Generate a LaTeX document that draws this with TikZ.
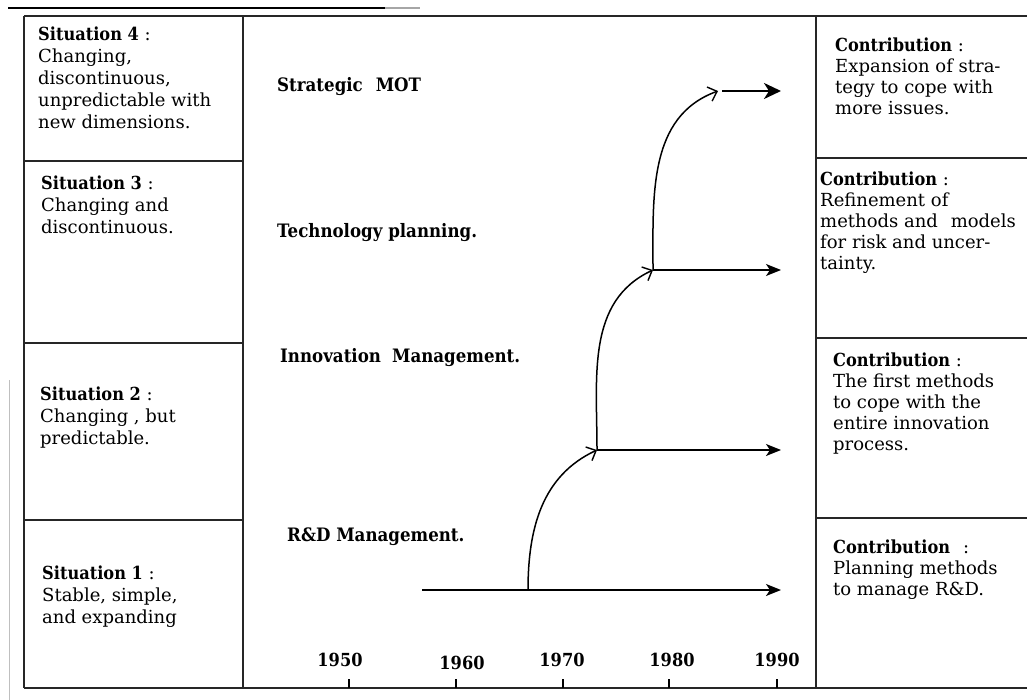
\documentclass[tikz,border=0pt]{standalone}
\usepackage{fontspec}
\setmainfont{DejaVu Serif}[BoldFeatures={FakeStretch=0.9}]
\usetikzlibrary{arrows.meta}
\begin{document}
\begin{tikzpicture}[x=1pt,y=-1pt,
  frame/.style={line width=1.2pt,draw=black!85},
  txt/.style={anchor=north west,align=left,inner sep=0pt,
    font=\fontsize{18}{22}\selectfont},
  rtxt/.style={txt,font=\fontsize{18}{21}\selectfont},
  stage/.style={anchor=west,inner sep=0pt,font=\fontsize{18.5}{20}\selectfont\bfseries},
  year/.style={inner sep=0pt,font=\fontsize{18}{20}\selectfont\bfseries},
  flow/.style={line width=1.6pt,-{Stealth[length=15pt,width=12pt,inset=4pt]}},
  rise/.style={line width=1.5pt,-{Straight Barb[length=8pt,width=15pt,line width=1.4pt]}},
  tick/.style={line width=1.4pt}
]
\useasboundingbox (0,0) rectangle (1027,700);

% page rule and scan edge
\draw[line width=2.6pt] (8,8) -- (385,8);
\draw[line width=1.6pt,black!35] (385,8) -- (420,8);
\draw[line width=1pt,black!25] (9,380) -- (9,700);

% outer frame of the chart
\draw[frame] (24,16) -- (1027,16);
\draw[frame] (24,688) -- (1027,688);
\draw[frame] (24,16) -- (24,688);
\draw[frame] (243,16) -- (243,688);
\draw[frame] (816,16) -- (816,688);

% dividers of the two side columns
\draw[frame] (24,161) -- (243,161);
\draw[frame] (24,343) -- (243,343);
\draw[frame] (24,520) -- (243,520);
\draw[frame] (816,158) -- (1027,158);
\draw[frame] (816,338) -- (1027,338);
\draw[frame] (816,518) -- (1027,518);

% situations
\node[txt] (s4) at (38,27) {\textbf{Situation 4} :\\Changing,\\discontinuous,\\unpredictable with\\new dimensions.};
\node[txt] (s3) at (41,176) {\textbf{Situation 3} :\\Changing and\\discontinuous.};
\node[txt] (s2) at (40,387) {\textbf{Situation 2} :\\Changing , but\\predictable.};
\node[txt] (s1) at (42,566) {\textbf{Situation 1} :\\Stable, simple,\\and expanding};

% contributions
\node[rtxt] (c4) at (835,38) {\textbf{Contribution} :\\Expansion of stra-\\tegy to cope with\\more issues.};
\node[rtxt] (c3) at (820,172) {\textbf{Contribution} :\\Refinement of\\methods and\hspace{0.4em} models\\for risk and uncer-\\tainty.};
\node[rtxt] (c2) at (833,353) {\textbf{Contribution} :\\The first methods\\to cope with the\\entire innovation\\process.};
\node[rtxt] (c1) at (833,540) {\textbf{Contribution}\hspace{0.4em} :\\Planning methods\\to manage R\&D.};

% management stages
\node[stage] (mot) at (277,87) {Strategic\hspace{0.7em}MOT};
\node[stage] (tp) at (277,233) {Technology planning.};
\node[stage] (im) at (280,358) {Innovation\hspace{0.6em}Management.};
\node[stage] (rd) at (287,537) {R\&D Management.};

% time axis
\foreach \yr/\tx/\lx/\ly in {1950/349/340/660,1960/456/462/663,1970/563/562/660,1980/669/672/660,1990/777/777/660}{
  \node[year] (y\yr) at (\lx,\ly) {\yr};
  \coordinate (t\yr) at (\tx,679);
  \draw[tick] (t\yr) -- ++(0,9);
}

% branch points of the evolution
\coordinate (rdS) at (422,590);
\coordinate (rdB) at (528,590);
\coordinate (rdE) at (781,590);
\coordinate (imB) at (597,450);
\coordinate (imE) at (781,450);
\coordinate (tpB) at (653,270);
\coordinate (tpE) at (781,270);
\coordinate (motB) at (718,91);
\coordinate (motS) at (722,91);
\coordinate (motE) at (781,91);

\draw[flow] (rdS) -- (rdE);
\draw[rise] (rdB) to[out=90,in=205] (imB);
\draw[flow] (imB) -- (imE);
\draw[rise] (imB) to[out=90,in=205] (tpB);
\draw[flow] (tpB) -- (tpE);
\draw[rise] (tpB) to[out=90,in=200] (motB);
\draw[line width=2.4pt,-{Stealth[length=17pt,width=16pt,inset=5pt]}] (motS) -- (motE);
\end{tikzpicture}
\end{document}
